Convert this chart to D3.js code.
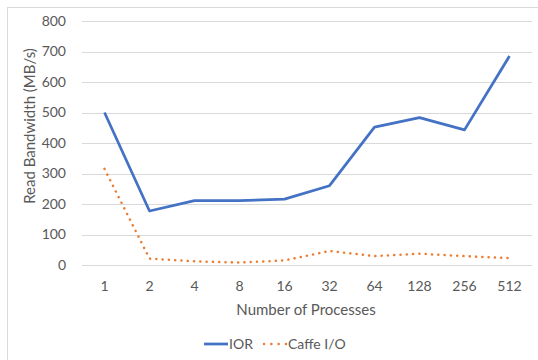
<!DOCTYPE html>
<html>
<head>
<meta charset="utf-8">
<script src="https://cdn.jsdelivr.net/npm/d3@7"></script>
<style>
  body { margin: 0; background: #fff; }
  text { font-family: Lato, "Open Sans", sans-serif; fill: #595959; }
</style>
</head>
<body>
<div id="chart-container"></div>
<script>
// Data
var processes = ["1", "2", "4", "8", "16", "32", "64", "128", "256", "512"];
var iorValues = [500, 177, 211, 211, 216, 260, 452, 483, 443, 685];
var caffeValues = [315, 21, 12, 8, 15, 46, 29, 37, 29, 23];
var yTicks = [0, 100, 200, 300, 400, 500, 600, 700, 800];

var width = 538, height = 360;
var margin = { top: 21, right: 6, bottom: 95, left: 82 };

var svg = d3.select("#chart-container")
    .append("svg")
    .attr("width", width)
    .attr("height", height);

// chart area border
svg.append("rect")
    .attr("x", 7.5)
    .attr("y", 7.5)
    .attr("width", 560)
    .attr("height", 380)
    .attr("fill", "none")
    .attr("stroke", "#d9d9d9");

var x = d3.scaleBand()
    .domain(processes)
    .range([margin.left, width - margin.right]);

var y = d3.scaleLinear()
    .domain([0, 800])
    .range([height - margin.bottom, margin.top]);

// gridlines
svg.append("g")
    .selectAll("line")
    .data(yTicks)
    .enter()
    .append("line")
    .attr("x1", margin.left)
    .attr("x2", width - margin.right)
    .attr("y1", function (d) { return Math.round(y(d)) + 0.5; })
    .attr("y2", function (d) { return Math.round(y(d)) + 0.5; })
    .attr("stroke", "#d9d9d9")
    .attr("stroke-width", 1);

// y axis labels
var yAxis = svg.append("g")
    .attr("transform", "translate(" + margin.left + ",0)")
    .call(d3.axisLeft(y).tickValues(yTicks).tickSize(0).tickPadding(16));
yAxis.select(".domain").remove();
yAxis.selectAll("text")
    .style("font-size", "14px")
    .attr("fill", "#595959");

// x axis labels
var xAxis = svg.append("g")
    .attr("transform", "translate(0," + (height - margin.bottom) + ")")
    .call(d3.axisBottom(x).tickSize(0).tickPadding(16));
xAxis.select(".domain").remove();
xAxis.selectAll("text")
    .style("font-size", "14px")
    .attr("fill", "#595959");

// axis titles
svg.append("text")
    .attr("x", 306)
    .attr("y", 315)
    .attr("text-anchor", "middle")
    .style("font-size", "15px")
    .text("Number of Processes");

svg.append("text")
    .attr("transform", "translate(35,126)rotate(-90)")
    .attr("text-anchor", "middle")
    .style("font-size", "15px")
    .text("Read Bandwidth (MB/s)");

var line = d3.line()
    .x(function (d, i) { return x(processes[i]) + x.bandwidth() / 2; })
    .y(function (d) { return y(d); });

svg.append("path")
    .datum(iorValues)
    .attr("d", line)
    .attr("fill", "none")
    .attr("stroke", "#4472c4")
    .attr("stroke-width", 2.75)
    .attr("stroke-linejoin", "round");

svg.append("path")
    .datum(caffeValues)
    .attr("d", line)
    .attr("fill", "none")
    .attr("stroke", "#ed7d31")
    .attr("stroke-width", 2.5)
    .attr("stroke-linecap", "round")
    .attr("stroke-dasharray", "0.1 6.2");

// legend
var legend = svg.append("g");
legend.append("line")
    .attr("x1", 204).attr("x2", 228)
    .attr("y1", 344).attr("y2", 344)
    .attr("stroke", "#4472c4")
    .attr("stroke-width", 2.75);
legend.append("text")
    .attr("x", 229)
    .attr("y", 349)
    .style("font-size", "14px")
    .text("IOR");
legend.append("line")
    .attr("x1", 264).attr("x2", 286)
    .attr("y1", 344).attr("y2", 344)
    .attr("stroke", "#ed7d31")
    .attr("stroke-width", 2.5)
    .attr("stroke-linecap", "round")
    .attr("stroke-dasharray", "0.1 7.2");
legend.append("text")
    .attr("x", 288)
    .attr("y", 349)
    .style("font-size", "14px")
    .text("Caffe I/O");
</script>
</body>
</html>
